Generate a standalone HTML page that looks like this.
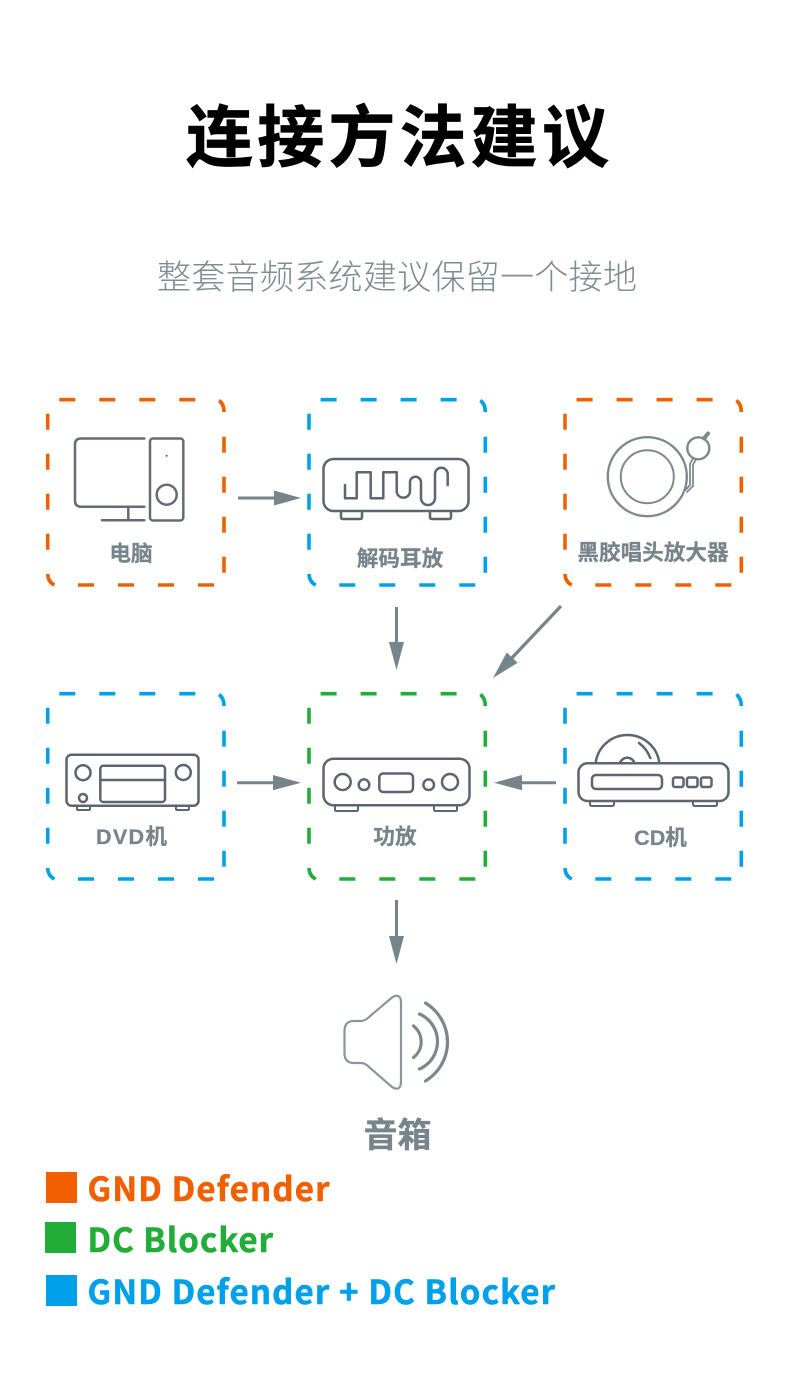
<!DOCTYPE html>
<html lang="zh">
<head>
<meta charset="utf-8">
<title>连接方法建议</title>
<style>
html,body{margin:0;padding:0;background:#fff;width:790px;height:1379px;overflow:hidden}
svg{display:block}
text{font-family:"Noto Sans CJK SC","Liberation Sans",sans-serif}
.t{font-weight:700;fill:#78848b;stroke:#78848b;stroke-width:.25;font-size:21.6px;text-anchor:middle}
.w{font-family:"Liberation Sans","Noto Sans CJK SC",sans-serif}
.i{fill:none;stroke:#666c75;stroke-width:2.5;stroke-linecap:round;stroke-linejoin:round}
.j{fill:none;stroke:#5c6570;stroke-width:2.5;stroke-linecap:round;stroke-linejoin:round}
.a{fill:#76848b;stroke:none}
.l{font-weight:700;font-size:33px;stroke-width:.55}
</style>
</head>
<body>
<svg width="790" height="1379" viewBox="0 0 790 1379" xmlns="http://www.w3.org/2000/svg">
<rect width="790" height="1379" fill="#fff"/>
<defs>
<g id="b" fill="none" stroke-width="3.6">
<path d="M59.3 399.7h16M99.3 399.7h16M139.3 399.7h16M179.3 399.7h16"/>
<path d="M219 400.5Q224 404 224 412"/>
<path d="M224 436.7v16M224 476.7v16M224 516.7v16M224 556.7v16"/>
<path d="M78 585h16M118 585h16M158 585h16M198 585h16"/>
<path d="M47.7 574Q48 582 54.5 585"/>
<path d="M47.7 413.7v16M47.7 453.7v16M47.7 493.7v16M47.7 533.7v16"/>
</g>
</defs>
<use href="#b" stroke="#f06000"/>
<use href="#b" x="261.3" stroke="#00a0ea"/>
<use href="#b" x="517.3" stroke="#f06000"/>
<use href="#b" y="294" stroke="#00a0ea"/>
<use href="#b" x="261.3" y="294" stroke="#21ad38"/>
<use href="#b" x="517.3" y="294" stroke="#00a0ea"/>

<text x="186" y="161" font-size="67" font-weight="700" fill="#000" stroke="#000" stroke-width=".7" textLength="423" lengthAdjust="spacing">连接方法建议</text>
<text x="157" y="289" font-size="34" font-weight="300" fill="#7f8c92" textLength="480" lengthAdjust="spacing">整套音频系统建议保留一个接地</text>

<!-- computer -->
<g class="i">
<path d="M144.3 438.5H81Q75 438.5 75 444.5V500.5Q75 506.7 81 506.7H144.3"/>
<path d="M128.3 506.7V520.3M102 520.3H144.3"/>
<rect x="150" y="438.5" width="33.3" height="82" rx="3"/>
<circle cx="166.7" cy="494.7" r="10"/>
</g>
<circle cx="166.7" cy="455.7" r="1" fill="#555"/>
<text class="t" x="131" y="561">电脑</text>

<!-- DAC -->
<g class="j">
<rect x="323.5" y="459" width="145" height="52" rx="10"/>
<path d="M341 511v6q0 2 2 2h17q2 0 2-2v-6M430 511v6q0 2 2 2h17q2 0 2-2v-6"/>
<path d="M345 485V498.3H356.7V472.3H370.7V498.3H383.3V472.3H396.7V491A6.65 6.65 0 0 0 410 491V482.2A5.5 5.5 0 0 1 421 482.2V498A7 7 0 0 0 435 498V474.1A6.35 6.35 0 0 1 447.7 474.1V485"/>
</g>
<text class="t" x="400" y="566">解码耳放</text>

<!-- turntable -->
<g fill="none" stroke="#7c8a90" stroke-width="2.4" stroke-linecap="round" stroke-linejoin="round">
<circle cx="647.3" cy="476.7" r="39.5"/>
<circle cx="647.3" cy="476.7" r="26.5" stroke-width="2"/>
<circle cx="698.3" cy="448.3" r="11"/>
<path d="M704 438.5L708 433.5" stroke-width="4"/>
<path d="M693 458.5L690 464V485L685.5 490M696 459L693 465V486L687 492" stroke-width="1.8"/>
</g>
<text class="t" x="653" y="560">黑胶唱头放大器</text>

<!-- DVD -->
<g class="j">
<rect x="66.5" y="754.7" width="132" height="51" rx="5"/>
<circle cx="83" cy="772.7" r="7.5"/>
<circle cx="183.3" cy="772.5" r="7.5"/>
<circle cx="83" cy="798" r="4"/>
<rect x="100.3" y="765.7" width="64.7" height="36.3" rx="3"/>
<path d="M100.3 780H165"/>
<path d="M77 806v3q0 1 1 1h11q1 0 1-1v-3M176 806v3q0 1 1 1h11q1 0 1-1v-3" stroke-width="2"/>
</g>
<text class="t w" x="131.5" y="844" textLength="71" lengthAdjust="spacing">DVD机</text>

<!-- amp -->
<g class="j">
<rect x="323.5" y="758.7" width="146" height="46.6" rx="10"/>
<circle cx="342.7" cy="782" r="8"/>
<circle cx="364" cy="784.7" r="5.3"/>
<rect x="379.3" y="773.5" width="33.7" height="18.5" rx="4"/>
<circle cx="428.7" cy="784.7" r="5.3"/>
<circle cx="450" cy="782" r="8"/>
<path d="M335 805.5v4q0 1.5 1.5 1.5h20q1.5 0 1.5-1.5v-4M434 805.5v4q0 1.5 1.5 1.5h20q1.5 0 1.5-1.5v-4" stroke-width="2"/>
</g>
<text class="t" x="395" y="844">功放</text>

<!-- CD -->
<g class="j">
<rect x="578.5" y="763.3" width="150" height="37.7" rx="9"/>
<rect x="592" y="775" width="70" height="14" rx="4"/>
<rect x="673" y="777.5" width="10.5" height="9.5" rx="2"/>
<rect x="687" y="777.5" width="10.5" height="9.5" rx="2"/>
<rect x="701" y="777.5" width="10.5" height="9.5" rx="2"/>
<path d="M595.7 763A32 31.5 0 0 1 659.3 763"/>
<path d="M620 763A7.5 7 0 0 1 634.5 763"/>
<path d="M639 743Q647 749 650.3 758"/>
<path d="M590 801v3q0 2 2 2h20q2 0 2-2v-3M693 801v3q0 2 2 2h20q2 0 2-2v-3" stroke-width="2"/>
</g>
<text class="t w" x="660.5" y="845">CD机</text>

<!-- arrows -->
<path class="a" d="M238 496.5H274V490.5L301 498L274 505.5V499.5H238Z"/>
<path class="a" d="M237 781.2H273V775L301 782.7L273 790.2V784.2H237Z"/>
<path class="a" d="M556 781.2H522V775L494 782.7L522 790.2V784.2H556Z"/>
<path class="a" d="M395 607H398V642H404L396.5 670L389 642H395Z"/>
<path class="a" d="M395 900H398V936H404L396.5 964L389 936H395Z"/>
<path class="a" d="M559.8 604.9L562.2 607.1L513.4 658.7L517.65 662.75L493 678L506.75 652.45L511 656.5Z"/>

<!-- speaker -->
<path d="M344.5 1031Q344.5 1021 354 1021H361Q365 1021 369 1017L392 997.5Q400.5 992.5 401 1002V1082Q400.5 1092 392 1087L369 1067Q365 1063 361 1063H354Q344.5 1063 344.5 1053Z" fill="none" stroke="#8a969b" stroke-width="2.2" stroke-linejoin="round"/>
<g fill="none" stroke="#7b878d" stroke-width="3.2" stroke-linecap="round">
<path d="M413.5 1026A20 20 0 0 1 413.5 1057.5"/>
<path d="M419.5 1014A30 30 0 0 1 419.5 1069"/>
<path d="M425.5 1003A45.6 45.6 0 0 1 425.5 1081"/>
</g>
<text x="397.5" y="1147" font-size="34" font-weight="700" fill="#78848b" stroke="#78848b" stroke-width=".3" text-anchor="middle">音箱</text>

<!-- legend -->
<rect x="46" y="1172" width="31" height="31" fill="#f06000"/>
<rect x="45" y="1222" width="31" height="31" fill="#21ad38"/>
<rect x="46" y="1275" width="31" height="31" fill="#00a0ea"/>
<text class="l" x="87.5" y="1201" fill="#f06000" stroke="#f06000" textLength="242" lengthAdjust="spacing">GND Defender</text>
<text class="l" x="87.5" y="1252" fill="#21ad38" stroke="#21ad38" textLength="185.5" lengthAdjust="spacing">DC Blocker</text>
<text class="l" x="87.5" y="1304" fill="#00a0ea" stroke="#00a0ea" textLength="467.5" lengthAdjust="spacing">GND Defender + DC Blocker</text>
</svg>
</body>
</html>
